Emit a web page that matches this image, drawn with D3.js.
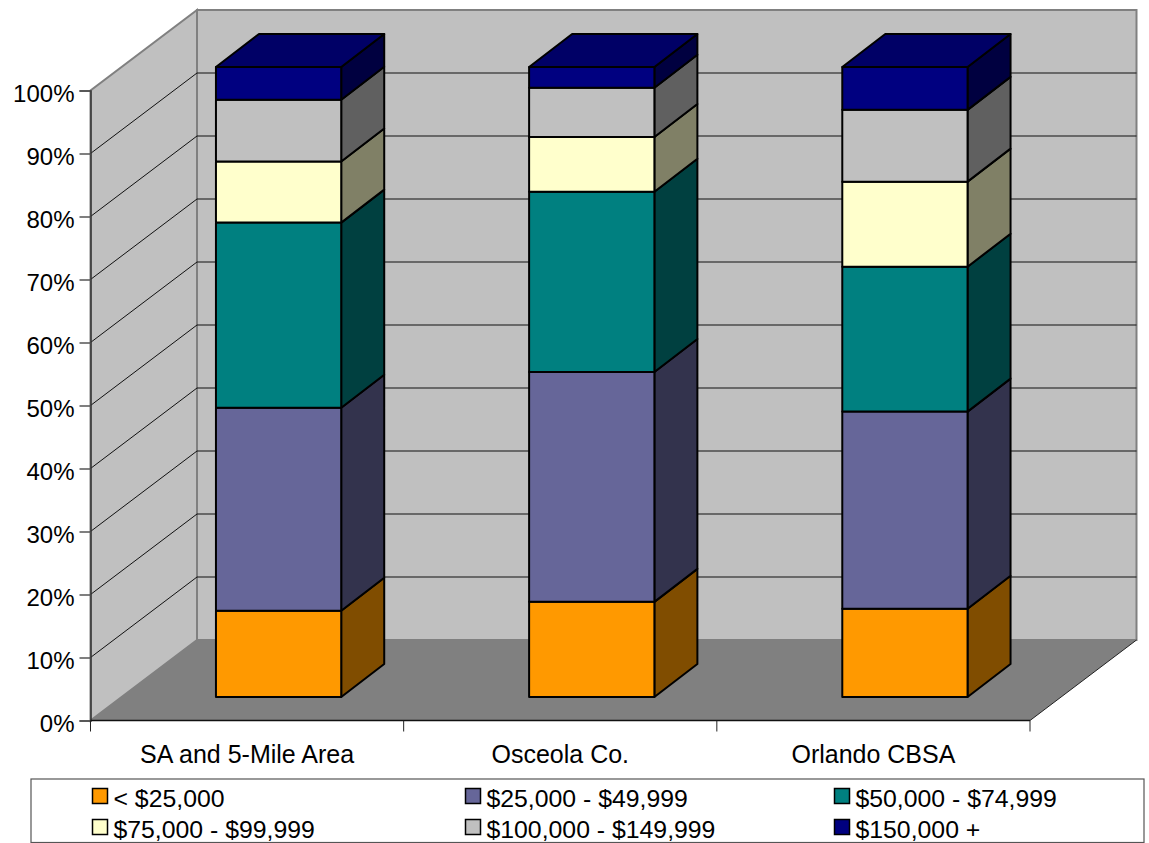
<!DOCTYPE html>
<html>
<head>
<meta charset="utf-8">
<script src="https://cdn.jsdelivr.net/npm/d3@7/dist/d3.min.js"></script>
<style>
  html, body { margin: 0; padding: 0; background: #fff; overflow: hidden; }
  svg { display: block; }
  text { font-family: "Liberation Sans", Arial, sans-serif; fill: #000; }
</style>
</head>
<body>
<svg id="chart" width="1149" height="843"></svg>
<script>
// Household income distribution by area (share of households, percent)
const categories = ["SA and 5-Mile Area", "Osceola Co.", "Orlando CBSA"];
const incomeBands = ["< $25,000", "$25,000 - $49,999", "$50,000 - $74,999",
                     "$75,000 - $99,999", "$100,000 - $149,999", "$150,000 +"];
const under25k   = [13.7, 15.1, 14.0];
const from25k    = [32.2, 36.5, 31.3];
const from50k    = [29.4, 28.6, 23.0];
const from75k    = [ 9.7,  8.7, 13.5];
const from100k   = [ 9.8,  7.8, 11.4];
const over150k   = [ 5.2,  3.3,  6.8];
const percentTicks = [0, 10, 20, 30, 40, 50, 60, 70, 80, 90, 100];
const bandColors = ["#FF9900", "#666699", "#008080", "#FFFFCC", "#C0C0C0", "#000080"];

const series = [under25k, from25k, from50k, from75k, from100k, over150k];
const rows = categories.map((c, i) => {
  const row = { category: c };
  incomeBands.forEach((b, j) => { row[b] = series[j][i]; });
  return row;
});

const svg = d3.select("#chart");

// Oblique projection: the plot box recedes up and to the right
const plot = { left: 90.5, right: 1030, bottom: 720.5, top: 90.5 };
const boxDepth = { dx: 106.5, dy: -80.5 };
const barInset = { dx: 31.5, dy: -23.5 };   // front face of bars, from the front of the box
const barDepth = { dx: 43, dy: -33 };       // how far each bar extends backwards
const barShare = 0.4;
const labelSize = 24.8;

const x = d3.scaleBand().domain(categories).range([plot.left, plot.right]);
const y = d3.scaleLinear().domain([0, 100]).range([plot.bottom, plot.top]);

const pts = a => a.map(p => p.join(",")).join(" ");

// Walls and floor
const back = { left: plot.left + boxDepth.dx, right: plot.right + boxDepth.dx };
svg.append("polygon")
  .attr("points", pts([[back.left, y(0) + boxDepth.dy], [back.right, y(0) + boxDepth.dy],
                       [back.right, y(100) + boxDepth.dy], [back.left, y(100) + boxDepth.dy]]))
  .attr("fill", "#C0C0C0").attr("stroke", "#808080").attr("stroke-width", 2);
svg.append("polygon")
  .attr("points", pts([[plot.left, y(0)], [back.left, y(0) + boxDepth.dy],
                       [back.left, y(100) + boxDepth.dy], [plot.left, y(100)]]))
  .attr("fill", "#C0C0C0").attr("stroke", "#808080").attr("stroke-width", 2);

// Gridlines across the left and back walls
const inner = percentTicks.slice(1, -1);
svg.append("g").selectAll("path").data(inner).join("path")
  .attr("fill", "none").attr("stroke", "#111").attr("stroke-width", 1)
  .attr("d", t => d3.line()([[plot.left, y(t)], [back.left, y(t) + boxDepth.dy], [back.right, y(t) + boxDepth.dy]]));

svg.append("polygon")
  .attr("points", pts([[plot.left, y(0)], [back.left, y(0) + boxDepth.dy],
                       [back.right, y(0) + boxDepth.dy], [plot.right, y(0)]]))
  .attr("fill", "#808080");
svg.append("line")
  .attr("x1", plot.right).attr("y1", y(0))
  .attr("x2", back.right).attr("y2", y(0) + boxDepth.dy)
  .attr("stroke", "#222").attr("stroke-width", 1);

// Value axis
const yAxis = svg.append("g").attr("transform", `translate(${plot.left},0)`)
  .call(d3.axisLeft(y).tickValues(percentTicks).tickFormat(d => d + "%").tickSize(11).tickPadding(5));
yAxis.select(".domain").attr("stroke", "#333").attr("stroke-width", 1.5);
yAxis.selectAll(".tick line").attr("stroke", "#555").attr("stroke-width", 1.5);
yAxis.selectAll("text").attr("font-size", 24).attr("dy", "0.46em").attr("font-family", "Liberation Sans");

// Category axis: labels centred in each band, ticks on the band edges
const xAxis = svg.append("g").attr("transform", `translate(0,${plot.bottom})`)
  .call(d3.axisBottom(x).tickSize(0).tickPadding(25));
xAxis.select(".domain").remove();
xAxis.selectAll("text").attr("font-size", labelSize + 0.2).attr("font-family", "Liberation Sans");
const edges = categories.map(c => x(c)).concat([plot.right]);
svg.append("line").attr("x1", plot.left).attr("x2", plot.right)
  .attr("y1", plot.bottom).attr("y2", plot.bottom).attr("stroke", "#111").attr("stroke-width", 1.5);
svg.append("g").selectAll("line").data(edges).join("line")
  .attr("x1", d => d).attr("x2", d => d)
  .attr("y1", plot.bottom).attr("y2", plot.bottom + 11)
  .attr("stroke", "#222").attr("stroke-width", 1);

// Stacked 3D columns
const stacked = d3.stack().keys(incomeBands)(rows);
const barWidth = x.bandwidth() * barShare;
const frontX = c => x(c) + (x.bandwidth() - barWidth) / 2 + barInset.dx;
const frontY = v => y(v) + barInset.dy;
const shade = (col, k) => {
  const c = d3.rgb(col);
  return d3.rgb(c.r * k, c.g * k, c.b * k).formatHex();
};

const bars = svg.append("g").attr("stroke", "#000").attr("stroke-width", 2).attr("stroke-linejoin", "round");
stacked.forEach((layer, j) => {
  const color = bandColors[j];
  const g = bars.append("g");
  layer.forEach(d => {
    const c = d.data.category;
    const x0 = frontX(c), x1 = x0 + barWidth;
    const yLow = frontY(d[0]), yHigh = frontY(d[1]);
    // side face
    g.append("polygon")
      .attr("points", pts([[x1, yLow], [x1 + barDepth.dx, yLow + barDepth.dy],
                           [x1 + barDepth.dx, yHigh + barDepth.dy], [x1, yHigh]]))
      .attr("fill", shade(color, 0.5));
    // front face
    g.append("rect")
      .attr("x", x0).attr("y", yHigh)
      .attr("width", barWidth).attr("height", yLow - yHigh)
      .attr("fill", color);
    // top face is only visible on the last layer
    if (j === stacked.length - 1) {
      g.append("polygon")
        .attr("points", pts([[x0, yHigh], [x1, yHigh],
                             [x1 + barDepth.dx, yHigh + barDepth.dy], [x0 + barDepth.dx, yHigh + barDepth.dy]]))
        .attr("fill", shade(color, 0.8));
    }
  });
});

// Legend box and its two rows of entries
svg.append("rect").attr("x", 31).attr("y", 779).attr("width", 1113).attr("height", 63.5)
  .attr("fill", "#fff").attr("stroke", "#555").attr("stroke-width", 1.2);
const legendColX = i => [92.5, 465.5, 834.5][i];
const legendRowY = i => [788.5, 819.5][i];
const legend = svg.append("g").selectAll("g").data(incomeBands).join("g")
  .attr("transform", (d, i) => `translate(${legendColX(i % 3)},${legendRowY(Math.floor(i / 3))})`);
legend.append("rect").attr("width", 15).attr("height", 15)
  .attr("fill", (d, i) => bandColors[i]).attr("stroke", "#000").attr("stroke-width", 1.5);
legend.append("text").attr("x", 21).attr("y", 18.5).attr("font-size", labelSize).text(d => d);
</script>
</body>
</html>
